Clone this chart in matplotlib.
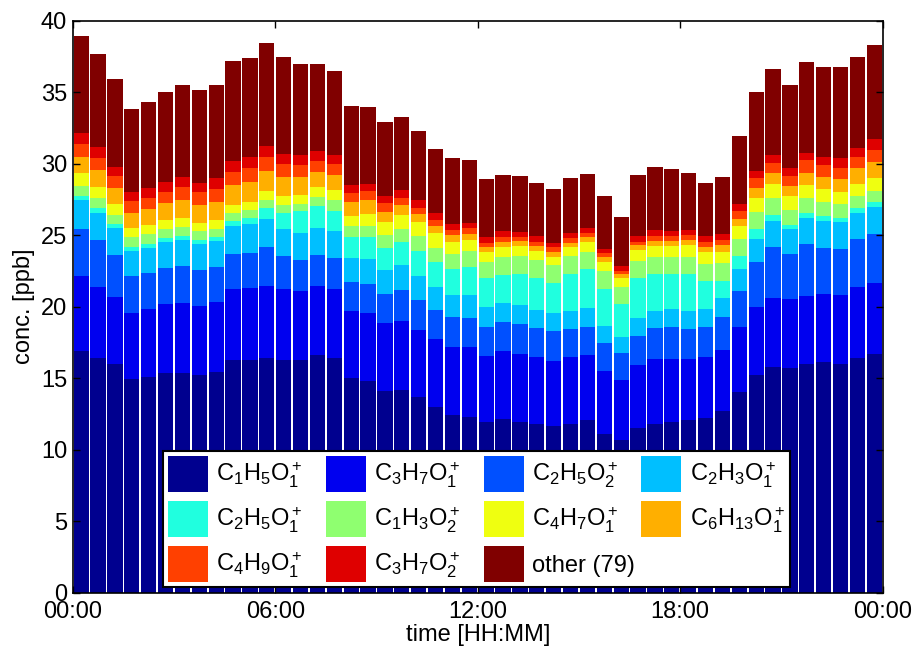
"""Diurnal cycle of the main oxygenated ions, stacked per half hour."""
import numpy as np
import matplotlib
matplotlib.use("Agg")
import matplotlib.pyplot as plt

plt.rcParams["font.family"] = ["Liberation Sans", "DejaVu Sans"]
plt.rcParams["mathtext.fontset"] = "custom"
plt.rcParams["mathtext.rm"] = "Liberation Sans"
plt.rcParams["mathtext.it"] = "Liberation Sans:italic"
plt.rcParams["mathtext.default"] = "rm"

# half-hour means, 00:00-00:30 ... 23:30-24:00, ppb
c1h5o1 = [16.92, 16.39, 15.97, 14.94, 15.08, 15.38, 15.38, 15.24, 15.45, 16.25, 16.29, 16.39,
          16.29, 16.29, 16.64, 16.39, 14.99, 14.78, 14.13, 14.20, 13.71, 13.01, 12.42, 12.26,
          11.91, 12.12, 11.96, 11.82, 11.63, 11.82, 12.05, 11.12, 10.70, 11.49, 11.79, 11.91,
          12.05, 12.19, 12.70, 14.01, 15.22, 15.80, 15.71, 16.01, 16.13, 16.01, 16.43, 16.67]
c3h7o1 = [5.20, 5.01, 4.73, 4.59, 4.73, 4.80, 4.90, 4.83, 4.90, 4.97, 5.03, 5.03,
          4.92, 4.83, 4.83, 4.83, 4.73, 4.76, 4.76, 4.83, 4.69, 4.73, 4.73, 4.90,
          4.66, 4.76, 4.71, 4.64, 4.59, 4.64, 4.55, 4.41, 4.15, 4.45, 4.55, 4.43,
          4.29, 4.27, 4.29, 4.55, 4.73, 4.83, 4.83, 4.73, 4.76, 4.83, 4.97, 5.01]
c2h5o2 = [3.31, 3.26, 2.94, 2.63, 2.54, 2.52, 2.56, 2.52, 2.40, 2.49, 2.47, 2.73,
          2.31, 2.17, 2.17, 2.21, 1.98, 2.05, 2.00, 2.14, 2.07, 2.00, 2.10, 2.07,
          2.03, 2.07, 2.14, 2.07, 2.10, 2.00, 2.00, 1.91, 1.89, 2.00, 2.17, 2.26,
          2.12, 2.14, 2.31, 2.56, 3.19, 3.57, 3.15, 3.68, 3.24, 3.22, 3.31, 3.40]
c2h3o1 = [2.03, 1.91, 1.86, 1.77, 1.79, 1.82, 1.86, 1.79, 1.86, 1.96, 2.03, 2.00,
          1.91, 1.89, 1.86, 1.89, 1.70, 1.75, 1.68, 1.75, 1.70, 1.66, 1.59, 1.61,
          1.35, 1.31, 1.31, 1.26, 1.21, 1.26, 1.31, 1.19, 1.14, 1.26, 1.21, 1.24,
          1.26, 1.24, 1.31, 1.49, 1.63, 1.82, 1.75, 1.82, 1.89, 1.89, 1.86, 1.91]
c2h5o1 = [0.30, 0.30, 0.28, 0.28, 0.28, 0.28, 0.26, 0.28, 0.28, 0.30, 0.42, 0.77,
          1.14, 1.49, 1.52, 1.40, 1.45, 1.52, 1.54, 1.59, 1.75, 1.72, 1.79, 1.96,
          2.05, 1.96, 2.17, 2.21, 2.10, 2.56, 2.73, 2.63, 2.31, 2.80, 2.56, 2.45,
          2.56, 1.93, 1.21, 0.96, 0.65, 0.42, 0.30, 0.28, 0.30, 0.23, 0.33, 0.33]
c1h3o2 = [0.70, 0.70, 0.65, 0.65, 0.65, 0.65, 0.65, 0.61, 0.56, 0.56, 0.51, 0.54,
          0.56, 0.51, 0.68, 0.75, 0.82, 0.82, 0.93, 0.93, 1.00, 0.98, 1.07, 1.12,
          1.12, 1.28, 1.28, 1.28, 1.31, 1.28, 1.21, 1.21, 1.21, 1.21, 1.21, 1.21,
          1.21, 1.21, 1.24, 1.14, 1.21, 1.17, 1.05, 1.07, 0.98, 0.98, 0.84, 0.79]
c4h7o1 = [0.89, 0.82, 0.75, 0.63, 0.65, 0.63, 0.63, 0.56, 0.61, 0.61, 0.58, 0.65,
          0.61, 0.65, 0.65, 0.70, 0.70, 0.82, 0.91, 1.00, 1.00, 1.03, 0.84, 0.77,
          0.72, 0.70, 0.70, 0.63, 0.56, 0.63, 0.70, 0.68, 0.58, 0.77, 0.77, 0.77,
          0.84, 0.86, 0.79, 0.96, 1.00, 1.00, 0.96, 0.93, 0.96, 0.86, 0.86, 0.91]
c6h13o1 = [1.14, 1.14, 1.14, 1.07, 1.14, 1.17, 1.24, 1.31, 1.26, 1.35, 1.40, 1.35,
           1.31, 1.21, 1.05, 1.03, 0.96, 0.98, 0.70, 0.65, 0.58, 0.54, 0.47, 0.42,
           0.37, 0.35, 0.30, 0.33, 0.35, 0.30, 0.33, 0.33, 0.28, 0.35, 0.35, 0.35,
           0.33, 0.35, 0.44, 0.49, 0.68, 0.72, 0.72, 0.86, 0.84, 0.91, 1.07, 1.07]
c4h9o1 = [0.89, 0.89, 0.79, 0.82, 0.72, 0.79, 0.86, 0.86, 0.89, 0.93, 0.96, 1.03,
          0.93, 0.86, 0.82, 0.79, 0.63, 0.58, 0.58, 0.54, 0.42, 0.42, 0.37, 0.37,
          0.28, 0.35, 0.30, 0.28, 0.30, 0.33, 0.30, 0.26, 0.26, 0.23, 0.33, 0.33,
          0.35, 0.33, 0.37, 0.56, 0.72, 0.72, 0.70, 0.89, 0.82, 0.75, 0.82, 0.89]
c3h7o2 = [0.75, 0.72, 0.68, 0.63, 0.72, 0.70, 0.70, 0.68, 0.77, 0.79, 0.75, 0.77,
          0.72, 0.72, 0.70, 0.65, 0.58, 0.54, 0.51, 0.54, 0.54, 0.44, 0.42, 0.40,
          0.42, 0.40, 0.35, 0.40, 0.33, 0.37, 0.33, 0.33, 0.33, 0.40, 0.42, 0.37,
          0.35, 0.42, 0.42, 0.47, 0.49, 0.58, 0.54, 0.49, 0.58, 0.75, 0.63, 0.72]
other = [6.83, 6.53, 6.13, 5.80, 6.04, 6.25, 6.48, 6.48, 6.53, 6.95, 6.92, 7.18,
         6.74, 6.32, 6.04, 5.87, 5.48, 5.34, 5.17, 5.10, 4.85, 4.50, 4.57, 4.36,
         4.03, 3.94, 3.94, 3.73, 3.78, 3.82, 3.80, 3.66, 3.45, 4.22, 4.38, 4.29,
         3.96, 3.73, 3.96, 4.73, 5.50, 6.01, 5.83, 6.32, 6.25, 6.32, 6.34, 6.62]

series = [c1h5o1, c3h7o1, c2h5o2, c2h3o1, c2h5o1, c1h3o2,
          c4h7o1, c6h13o1, c4h9o1, c3h7o2, other]
labels = [r"C$_1$H$_5$O$_1^+$", r"C$_3$H$_7$O$_1^+$", r"C$_2$H$_5$O$_2^+$",
          r"C$_2$H$_3$O$_1^+$", r"C$_2$H$_5$O$_1^+$", r"C$_1$H$_3$O$_2^+$",
          r"C$_4$H$_7$O$_1^+$", r"C$_6$H$_{13}$O$_1^+$", r"C$_4$H$_9$O$_1^+$",
          r"C$_3$H$_7$O$_2^+$", "other (79)"]
colors = ["#00008F", "#0000EF", "#0050FF", "#00BFFF", "#20FFDF", "#8FFF70",
          "#EFFF10", "#FFAF00", "#FF4000", "#DF0000", "#800000"]

hours = np.arange(len(c1h5o1)) * 0.5 + 0.25   # bin centres in hours

fig = plt.figure(figsize=(9.16, 6.48), dpi=100)
ax = fig.add_axes([0.0794, 0.0853, 0.8843, 0.8827])

bottom = np.zeros(len(hours))
handles = []
for vals, col, lab in zip(series, colors, labels):
    h = ax.bar(hours, vals, width=0.45, bottom=bottom, color=col,
               linewidth=0, label=lab)
    handles.append(h)
    bottom += np.asarray(vals)

ax.set_xlim(0, 24)
ax.set_ylim(0, 40)
ax.set_xticks([0, 6, 12, 18, 24])
ax.set_xticklabels(["00:00", "06:00", "12:00", "18:00", "00:00"])
ax.set_yticks(np.arange(0, 41, 5))
ax.tick_params(direction="in", top=True, right=True, length=5, width=1,
               labelsize=17)
ax.tick_params(axis="x", pad=6)
ax.tick_params(axis="y", pad=4)
for sp in ax.spines.values():
    sp.set_linewidth(1.2)
ax.set_xlabel("time [HH:MM]", fontsize=17, labelpad=1)
ax.set_ylabel("conc. [ppb]", fontsize=17, labelpad=4)

# legend filled row by row; trailing space on the first two columns
# keeps all four columns about the same width
order = [0, 4, 8, 1, 5, 9, 2, 6, 10, 3, 7]
pad = {0: "   ", 4: "   ", 8: "   ", 1: "   ", 5: "   ", 9: "   "}
leg = ax.legend([handles[i] for i in order],
                [labels[i] + pad.get(i, "") for i in order],
                ncol=4, loc="lower left", bbox_to_anchor=(0.1115, 0.01),
                fontsize=17, handlelength=1.7, handleheight=2.0,
                handletextpad=0.35, labelspacing=0.36, columnspacing=0.25,
                borderpad=0.2, borderaxespad=0, fancybox=False, framealpha=1)
leg.get_frame().set_edgecolor("black")
leg.get_frame().set_linewidth(1.5)

fig.savefig("out.png", dpi=100)
